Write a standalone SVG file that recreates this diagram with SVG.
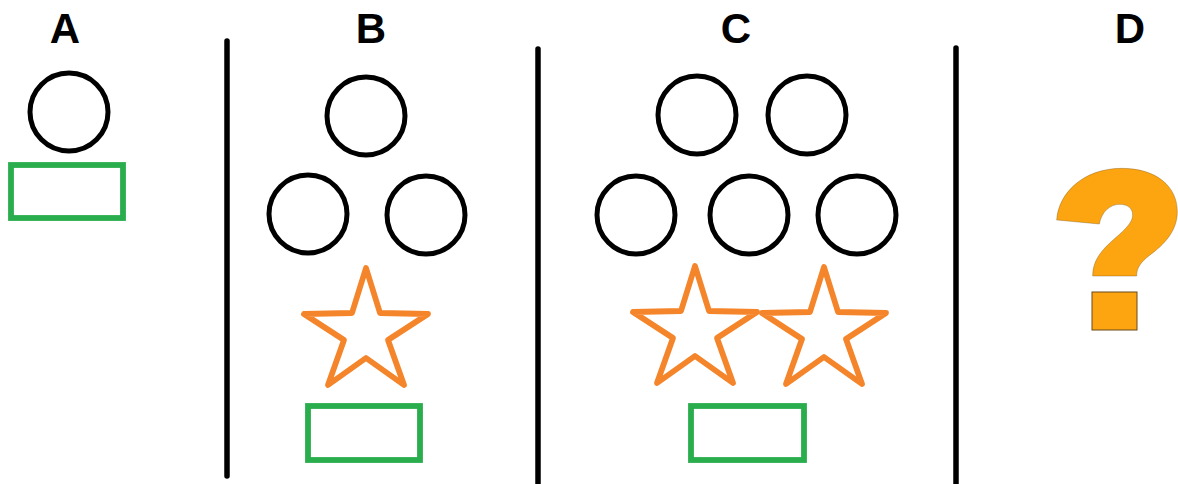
<svg xmlns="http://www.w3.org/2000/svg" width="1178" height="484" viewBox="0 0 1178 484">
<defs>
<style>
.lbl{font-family:"Liberation Sans",Arial,sans-serif;font-weight:bold;font-size:42px;fill:#000;text-anchor:middle}
.c{fill:none;stroke:#000;stroke-width:5}
.box{fill:none;stroke:#2aad4c;stroke-width:5.8}
.star{fill:none;stroke:#f5852a;stroke-width:5.8;stroke-linejoin:round}
.div{stroke:#000;stroke-width:5.5;stroke-linecap:round}
</style>
<polygon id="starShape" class="star" points="0,0 14,45 62,46 22,72 38,117 0,90 -38,117 -22,72 -62,46 -14,45"/>
</defs>
<rect width="1178" height="484" fill="#fff"/>
<g id="dividers">
<line class="div" x1="227" y1="41" x2="227" y2="476"/>
<line class="div" x1="538" y1="49" x2="538" y2="486"/>
<line class="div" x1="956" y1="48" x2="956" y2="486"/>
</g>
<g id="panelA">
<text class="lbl" x="65" y="43">A</text>
<circle class="c" cx="69" cy="112" r="39"/>
<rect class="box" x="11" y="165" width="112" height="53"/>
</g>
<g id="panelB">
<text class="lbl" x="371" y="43">B</text>
<circle class="c" cx="366" cy="116" r="39"/>
<circle class="c" cx="308" cy="214" r="39"/>
<circle class="c" cx="426" cy="215" r="39"/>
<use href="#starShape" x="366" y="268"/>
<rect class="box" x="308" y="406" width="112" height="54"/>
</g>
<g id="panelC">
<text class="lbl" x="736" y="43">C</text>
<circle class="c" cx="697" cy="115" r="39"/>
<circle class="c" cx="807" cy="115" r="39"/>
<circle class="c" cx="636" cy="215" r="39"/>
<circle class="c" cx="749" cy="215" r="39"/>
<circle class="c" cx="857" cy="215" r="39"/>
<use href="#starShape" x="695" y="266"/>
<use href="#starShape" x="824" y="267"/>
<rect class="box" x="691" y="406" width="113" height="54"/>
</g>
<g id="panelD">
<text class="lbl" x="1130" y="43">D</text>
<g fill="#fca510" stroke="#6b4a1a" stroke-width="1">
<path transform="translate(1040,150) scale(0.3333)" d="M 50,210 C 55,130 130,55 245,55 C 350,55 412,110 412,185 C 412,245 370,285 330,315 C 300,338 290,355 290,378 L 158,378 C 158,330 185,300 225,265 C 260,235 278,215 278,195 C 278,175 262,163 240,163 C 210,163 185,185 178,222 Z"/>
<rect x="1092" y="292" width="45" height="38"/>
</g>
</g>
</svg>
